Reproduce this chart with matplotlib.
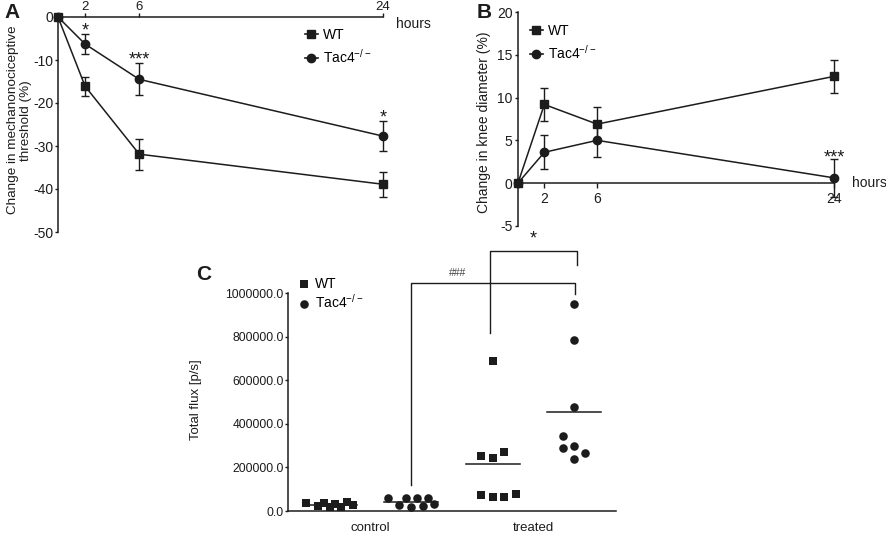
import matplotlib
matplotlib.use("Agg")
import matplotlib.pyplot as plt
import numpy as np

plt.rcParams['font.family'] = ['Liberation Sans', 'DejaVu Sans']
plt.rcParams['mathtext.default'] = 'regular'
plt.rcParams['axes.unicode_minus'] = False

INK = '#1c1c1c'

# panel A: mechanonociceptive threshold
hours = [0, 2, 6, 24]
a_wt = [0, -16.1, -31.9, -38.9]
a_wt_err = [0, 2.2, 3.6, 2.9]
a_ko = [0, -6.3, -14.5, -27.7]
a_ko_err = [0, 2.4, 3.7, 3.5]
a_stars = ['', '*', '***', '*']

# panel B: knee diameter
b_wt = [0, 9.2, 6.9, 12.5]
b_wt_err = [0, 1.9, 1.95, 1.95]
b_ko = [0, 3.6, 5.0, 0.6]
b_ko_err = [0, 2.0, 1.9, 2.2]
b_stars = ['', '', '', '***']

# panel C: total flux
c_ctrl_wt = [35000, 23000, 38000, 20000, 32000, 20000, 43000, 26000]
c_ctrl_ko = [58000, 26000, 58000, 20000, 58000, 23000, 58000, 32000]
c_trt_wt = [252000, 243000, 271000, 73000, 63000, 63000, 77000, 689000]
c_trt_ko = [951000, 785000, 479000, 344000, 288000, 300000, 265000, 240000]
c_offsets_ctrl = [-0.29, -0.15, -0.07, 0.0, 0.065, 0.14, 0.21, 0.28]
c_offsets_trt_wt = [-0.145, 0.0, 0.14, -0.145, 0.0, 0.14, 0.285, 0.0]
c_offsets_trt_ko = [0.0, 0.0, 0.0, -0.14, -0.14, 0.0, 0.14, 0.0]
c_groups = ['control', 'treated']

W, H = 886, 534
fig = plt.figure(figsize=(W / 100, H / 100), dpi=100)


def box(x0, y0, x1, y1):
    # pixel box (top-left origin) -> figure fraction
    return [x0 / W, 1 - y1 / H, (x1 - x0) / W, (y1 - y0) / H]


def legend_handles(ax):
    l1, = ax.plot([], [], '-s', color=INK, ms=6, lw=1.2, label='WT')
    l2, = ax.plot([], [], '-o', color=INK, ms=6, lw=1.2, label='Tac4$^{-/-}$')
    return [l1, l2]


def style_spines(ax):
    for sp in ax.spines.values():
        sp.set_color(INK)
        sp.set_linewidth(1.1)


# ---------- A ----------
ax = fig.add_axes(box(58, 17, 383, 232))
ax.errorbar(hours, a_wt, yerr=a_wt_err, fmt='-s', color=INK, ms=6, lw=1.1,
            capsize=3, elinewidth=1, clip_on=False, zorder=3)
ax.errorbar(hours, a_ko, yerr=a_ko_err, fmt='-o', color=INK, ms=6, lw=1.1,
            capsize=3, elinewidth=1, clip_on=False, zorder=3)
for h, m, e, s in zip(hours, a_ko, a_ko_err, a_stars):
    if s:
        ax.text(h, m + e - 0.3, s, ha='center', va='baseline', fontsize=13, color=INK)
ax.set_xlim(0, 24)
ax.set_ylim(-50, 0)
ax.xaxis.tick_top()
ax.set_xticks([2, 6, 24])
ax.set_yticks(np.arange(-50, 1, 10))
ax.spines['bottom'].set_visible(False)
ax.spines['right'].set_visible(False)
style_spines(ax)
ax.tick_params(colors=INK, labelsize=10, length=2.5, width=1, pad=1)
ax.tick_params(axis='x', labelsize=9.5, length=3, pad=0)
ax.text(1.04, 1.0, 'hours', transform=ax.transAxes, ha='left', va='top',
        fontsize=10, color=INK)
ax.set_ylabel('Change in mechanonociceptive\nthreshold (%)', fontsize=9.7,
              color=INK, linespacing=1.1)
ax.yaxis.set_label_coords(-0.08, 0.52)
h = legend_handles(ax)
ax.legend(handles=h, loc='upper left', bbox_to_anchor=(305 / W, 1 - 28 / H),
          bbox_transform=fig.transFigure, frameon=False, fontsize=10,
          handlelength=0.9, handletextpad=0.4, labelspacing=0.45,
          borderpad=0, borderaxespad=0)
fig.text(4 / W, 1 - 3 / H, 'A', fontsize=15, fontweight='bold', va='top', color=INK)

# ---------- B ----------
ax = fig.add_axes(box(518, 12.3, 834.3, 225.7))
ax.errorbar(hours, b_wt, yerr=b_wt_err, fmt='-s', color=INK, ms=6, lw=1.1,
            capsize=3, elinewidth=1, clip_on=False, zorder=3)
ax.errorbar(hours, b_ko, yerr=b_ko_err, fmt='-o', color=INK, ms=6, lw=1.1,
            capsize=3, elinewidth=1, clip_on=False, zorder=3)
for hh, m, e, s in zip(hours, b_ko, b_ko_err, b_stars):
    if s:
        ax.text(hh, m + e - 0.35, s, ha='center', va='baseline', fontsize=13, color=INK)
ax.set_xlim(0, 24)
ax.set_ylim(-5, 20)
ax.spines['bottom'].set_position(('data', 0))
ax.spines['top'].set_visible(False)
ax.spines['right'].set_visible(False)
style_spines(ax)
ax.set_xticks([2, 6, 24])
ax.set_yticks(np.arange(-5, 21, 5))
ax.tick_params(colors=INK, labelsize=10, length=2.5, width=1, pad=1.5)
ax.tick_params(axis='x', length=3.5, pad=3)
ax.text(1.055, 5 / 25, 'hours', transform=ax.transAxes, ha='left', va='center',
        fontsize=10, color=INK)
ax.set_ylabel('Change in knee diameter (%)', fontsize=10, color=INK)
ax.yaxis.set_label_coords(-0.085, 0.486)
h = legend_handles(ax)
ax.legend(handles=h, loc='upper left', bbox_to_anchor=(530 / W, 1 - 24 / H),
          bbox_transform=fig.transFigure, frameon=False, fontsize=10,
          handlelength=0.9, handletextpad=0.4, labelspacing=0.4,
          borderpad=0, borderaxespad=0)
fig.text(477 / W, 1 - 3 / H, 'B', fontsize=15, fontweight='bold', va='top', color=INK)

# ---------- C ----------
ax = fig.add_axes(box(288, 293.3, 616, 511))
groups = [(1, c_ctrl_wt, c_offsets_ctrl, 's'),
          (2, c_ctrl_ko, c_offsets_ctrl, 'o'),
          (3, c_trt_wt, c_offsets_trt_wt, 's'),
          (4, c_trt_ko, c_offsets_trt_ko, 'o')]
for pos, vals, offs, mk in groups:
    xs = pos + np.array(offs)
    ax.scatter(xs, vals, marker=mk, s=38, color=INK, linewidths=0, clip_on=False, zorder=3)
    ax.plot([pos - 0.33, pos + 0.33], [np.mean(vals)] * 2, color=INK, lw=1.1, zorder=2)
# significance brackets
ax.plot([2, 2, 4.01, 4.01], [120000, 1046000, 1046000, 997000], color=INK, lw=1,
        clip_on=False)
ax.text(2.57, 1079000, '###', ha='center', va='baseline', fontsize=7.5, color='#444444')
ax.plot([2.97, 2.97, 4.03, 4.03], [816000, 1194000, 1194000, 1130000], color=INK,
        lw=1, clip_on=False)
ax.text(3.5, 1228000, '*', ha='center', va='baseline', fontsize=13, color=INK)
ax.set_xlim(0.485, 4.515)
ax.set_ylim(0, 1000000)
ax.set_xticks([1.5, 3.5])
ax.set_xticklabels(c_groups)
ax.set_yticks(np.arange(0, 1000001, 200000))
ax.yaxis.set_major_formatter(matplotlib.ticker.FormatStrFormatter('%.1f'))
ax.spines['top'].set_visible(False)
ax.spines['right'].set_visible(False)
style_spines(ax)
ax.tick_params(axis='y', colors=INK, labelsize=8.7, length=2.5, width=1, pad=0.5)
ax.tick_params(axis='x', colors=INK, labelsize=9.5, length=0, pad=8)
ax.set_ylabel('Total flux [p/s]', fontsize=9.5, color=INK)
ax.yaxis.set_label_coords(-0.262, 0.51)
s1 = ax.scatter([], [], marker='s', s=38, color=INK, linewidths=0, label='WT')
s2 = ax.scatter([], [], marker='o', s=38, color=INK, linewidths=0, label='Tac4$^{-/-}$')
ax.legend(handles=[s1, s2], loc='upper left', bbox_to_anchor=(298 / W, 1 - 277 / H),
          bbox_transform=fig.transFigure, frameon=False, fontsize=10,
          handlelength=0.8, handletextpad=0.4, labelspacing=0.1,
          borderpad=0, borderaxespad=0, scatterpoints=1)
fig.text(196 / W, 1 - 265 / H, 'C', fontsize=15, fontweight='bold', va='top', color=INK)

fig.savefig('out.png', dpi=100)
